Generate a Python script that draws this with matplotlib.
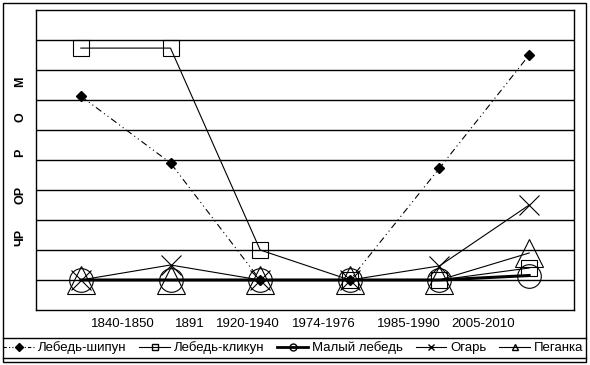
import numpy as np
import matplotlib.pyplot as plt
from matplotlib.lines import Line2D
from matplotlib.patches import Rectangle

plt.rcParams['font.family'] = ['Liberation Sans', 'DejaVu Sans']

# Периоды и значения статуса видов
periods = ['1840-1850', '1891', '1920-1940', '1974-1976', '1985-1990', '2005-2010']
shipun = [6.13, 3.9, 0, 0, 3.73, 7.5]
klikun = [7.73, 7.73, 1, 0, 0, 0.4]
maly = [0, 0, 0, 0, 0, 0.15]
ogar = [0, 0.5, 0, 0, 0.47, 2.5]
peganka = [0, 0, 0, 0, 0, 0.9]
status = ['ЧР', 'ОР', 'Р', 'О', 'М']

x = np.arange(len(periods))

fig = plt.figure(figsize=(5.9, 3.65), dpi=100)
ax = fig.add_axes([36/590, 1-310/365, 538/590, 300/365])

ax.plot(x, shipun, color='black', lw=0.8, ls=(0, (6, 3, 1, 3, 1, 3)),
        marker='D', ms=5, mfc='black', label='Лебедь-шипун')
ax.plot(x, klikun, color='black', lw=0.8, marker='s', ms=11,
        mfc='none', mew=0.8, label='Лебедь-кликун')
ax.plot(x, maly, color='black', lw=2.2, marker='o', ms=17,
        mfc='none', mew=0.8, label='Малый лебедь')
ax.plot(x, ogar, color='black', lw=0.8, marker='x', ms=14,
        mew=0.8, label='Огарь')
ax.plot(x, peganka, color='black', lw=0.8, marker='^', ms=20,
        mfc='none', mew=0.8, label='Пеганка')

ax.set_xlim(-0.5, 5.5)
ax.set_ylim(-1, 9)
for v in range(0, 9):
    ax.axhline(v, color='black', lw=1, zorder=0)

# подписи периодов (смещены, как в оригинале)
ax.set_xticks([0.47, 1.21, 1.86, 2.71, 3.66, 4.49])
ax.set_xticklabels(periods, fontsize=9.5)
ax.tick_params(axis='x', length=0, pad=6)
ax.set_yticks([])
for s in ax.spines.values():
    s.set_linewidth(1)

# подписи статуса по оси Y
for lab, ypos in zip(status, [237, 195, 153, 117, 82]):
    fig.text(20/590, 1-ypos/365, lab, rotation=90, fontsize=9,
             fontweight='bold', ha='center', va='center')

handles = [
    Line2D([], [], color='black', lw=0.8, ls=(0, (3, 2, 1, 2, 1, 2)),
           marker='D', ms=4, mfc='black'),
    Line2D([], [], color='black', lw=0.8, marker='s', ms=5, mfc='none'),
    Line2D([], [], color='black', lw=2, marker='o', ms=5, mfc='none'),
    Line2D([], [], color='black', lw=0.8, marker='x', ms=5),
    Line2D([], [], color='black', lw=0.8, marker='^', ms=5, mfc='none'),
]
labels = ['Лебедь-шипун', 'Лебедь-кликун', 'Малый лебедь', 'Огарь', 'Пеганка']
fig.legend(handles, labels, loc='center', bbox_to_anchor=(0.497, 1-348/365),
           ncol=5, frameon=False, fontsize=9.5, handlelength=2.3,
           handletextpad=0.3, columnspacing=1.0, borderpad=0)

# рамки
fig.patches.append(Rectangle((3/590, 1-362/365), 583/590, 359/365,
                             transform=fig.transFigure, fill=False,
                             edgecolor='black', lw=1))
fig.lines.append(Line2D([3/590, 586/590], [1-338/365, 1-338/365],
                        transform=fig.transFigure, color='black', lw=1))
fig.lines.append(Line2D([3/590, 586/590], [1-358/365, 1-358/365],
                        transform=fig.transFigure, color='black', lw=1))

fig.savefig('out.png', dpi=100)
